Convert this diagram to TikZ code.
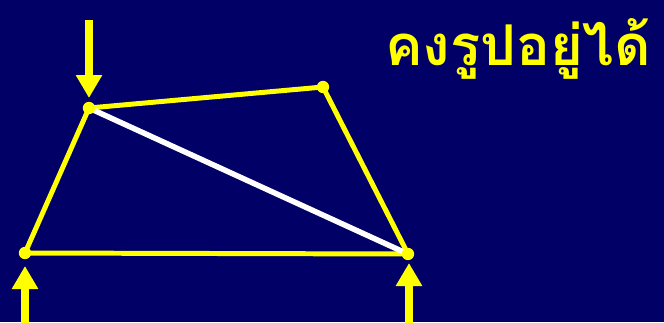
\documentclass[tikz,border=0pt]{standalone}
\usepackage{fontspec}
\usetikzlibrary{arrows.meta, calc}
\newfontfamily\thaifont[Script=Thai]{Loma}
\definecolor{navybg}{RGB}{0,0,102}
\definecolor{myyellow}{RGB}{255,255,0}

\begin{document}
\begin{tikzpicture}[x=0.03cm, y=-0.03cm,
    edge/.style={myyellow, line width=4.25pt, line join=round},
    brace/.style={white, line width=4.7pt},
    joint/.style={circle, fill=myyellow, inner sep=0pt, minimum size=0.37cm},
    force/.style={myyellow, line width=0.25cm, -{Triangle[width=0.75cm, length=0.69cm]}}]
    % background and frame
    \fill[navybg] (0,0) rectangle (664,322);
    \useasboundingbox (0,0) rectangle (664,322);
    % corners of the frame
    \coordinate (tl) at (89,108);
    \coordinate (tr) at (323,87);
    \coordinate (br) at (408,254);
    \coordinate (bl) at (25,253);
    \draw[edge] (tl) -- (tr) -- (br) -- (bl) -- cycle;
    \draw[brace] (tl) -- (br);
    \node[joint] (jtl) at (tl) {};
    \node[joint] (jtr) at (tr) {};
    \node[joint] (jbr) at (br) {};
    \node[joint] (jbl) at (bl) {};
    % loads
    \coordinate (ftop) at (89,20);
    \coordinate (ftopend) at (89,98);
    \coordinate (fbl) at (25,330);
    \coordinate (fblend) at (25,266);
    \coordinate (fbr) at (409,330);
    \coordinate (fbrend) at (409,263);
    \draw[force] (ftop) -- (ftopend);
    \draw[force] (fbl) -- (fblend);
    \draw[force] (fbr) -- (fbrend);
    % title
    \node[anchor=base west, inner sep=0pt, text=myyellow, font=\thaifont\bfseries\fontsize{48}{52}\selectfont] (title) at (385,65) {คงรูปอยู่ได้};
\end{tikzpicture}
\end{document}
